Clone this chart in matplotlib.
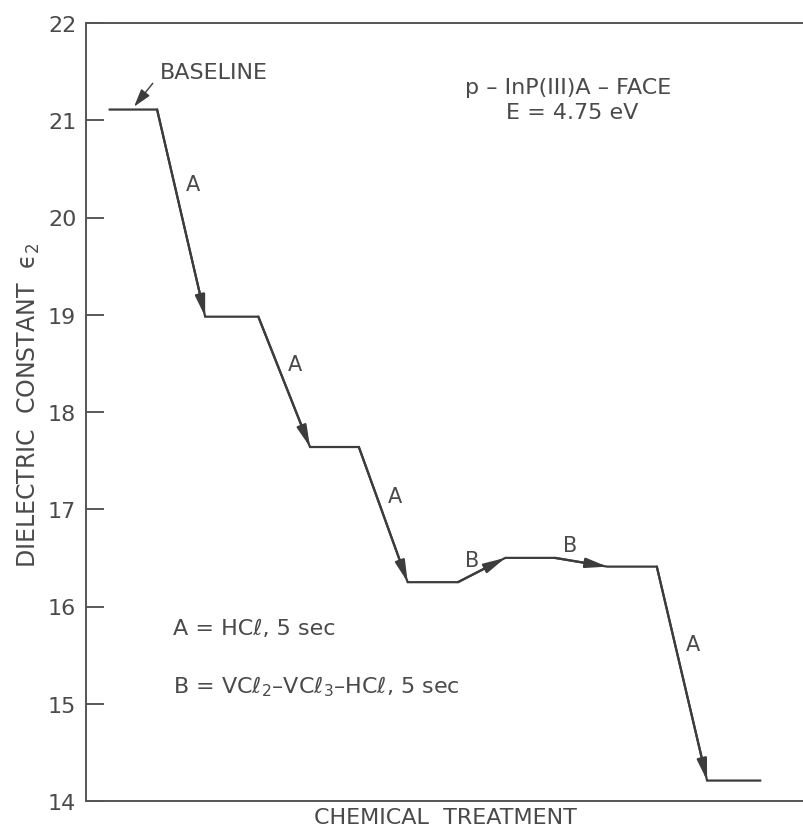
import matplotlib.pyplot as plt

# step levels of the dielectric constant after each chemical treatment
plateau_start = [3.3, 16.6, 31.2, 44.8, 58.4, 72.6, 86.5]
plateau_end = [9.9, 24.0, 38.0, 51.8, 65.3, 79.5, 93.9]
levels = [21.11, 18.98, 17.64, 16.25, 16.50, 16.41, 14.21]
treatments = ["A", "A", "A", "B", "B", "A"]

y_ticks = [14, 15, 16, 17, 18, 19, 20, 21, 22]

INK = "#3c3c3c"
TXT = "#4a4a4a"

plt.rcParams["font.family"] = ["DejaVu Sans"]

fig = plt.figure(figsize=(8.04, 8.29), dpi=100)
ax = fig.add_axes([86 / 804, 27 / 829, 718 / 804, 778 / 829])

# polyline through all plateaus
xs, ys = [], []
for x0, x1, lv in zip(plateau_start, plateau_end, levels):
    xs += [x0, x1]
    ys += [lv, lv]
ax.plot(xs, ys, color=INK, lw=1.6, solid_joinstyle="miter")

# arrowheads + treatment labels on each transition
for i, t in enumerate(treatments):
    xa, ya = plateau_end[i], levels[i]
    xb, yb = plateau_start[i + 1], levels[i + 1]
    ax.annotate("", xy=(xb, yb), xytext=(xa, ya),
                arrowprops=dict(arrowstyle="-|>,head_length=1.3,head_width=0.3",
                                color=INK, lw=1.6, shrinkA=0, shrinkB=0))
    if t == "A":
        f = 0.36
        ax.annotate(t, xy=(xa + f * (xb - xa), ya + f * (yb - ya)),
                    xytext=(8, 0), textcoords="offset points",
                    ha="left", va="center", fontsize=15, color=TXT)
    else:
        f = 0.3
        ax.annotate(t, xy=(xa + f * (xb - xa), ya + f * (yb - ya)),
                    xytext=(0, 11), textcoords="offset points",
                    ha="center", va="center", fontsize=15, color=TXT)

# baseline pointer
ax.text(10.3, 21.5, "BASELINE", ha="left", va="center", fontsize=16, color=TXT)
ax.annotate("", xy=(6.7, levels[0] + 0.03), xytext=(9.3, 21.38),
            arrowprops=dict(arrowstyle="-|>,head_length=1.1,head_width=0.33",
                            color=INK, lw=1.0, shrinkA=0, shrinkB=0))

ax.text(0.671, 0.918, "p – InP(III)A – FACE", transform=ax.transAxes,
        ha="center", va="center", fontsize=16, color=TXT)
ax.text(0.677, 0.885, "E = 4.75 eV", transform=ax.transAxes,
        ha="center", va="center", fontsize=16, color=TXT)

ax.text(0.121, 0.223, "A = HCℓ, 5 sec", transform=ax.transAxes,
        ha="left", va="center", fontsize=16, color=TXT)
ax.text(0.121, 0.148, "B = VCℓ$_2$–VCℓ$_3$–HCℓ, 5 sec", transform=ax.transAxes,
        ha="left", va="center", fontsize=16, color=TXT)

ax.set_xlim(0, 100)
ax.set_ylim(14, 22)
ax.set_yticks(y_ticks)
ax.set_xticks([])
ax.tick_params(axis="y", direction="in", length=13, width=1.2, pad=7,
               labelsize=16, colors=INK, labelcolor=TXT)

for side in ["left", "top", "bottom"]:
    ax.spines[side].set_color("#555555")
    ax.spines[side].set_linewidth(1.4)
ax.spines["right"].set_visible(False)

ax.set_xlabel("CHEMICAL  TREATMENT", fontsize=16, color=TXT, labelpad=4)
ax.set_ylabel("DIELECTRIC  CONSTANT  ϵ$_2$", fontsize=17, color=TXT)
ax.yaxis.set_label_coords(-0.061, 0.51)

fig.savefig("out.png", dpi=100)
